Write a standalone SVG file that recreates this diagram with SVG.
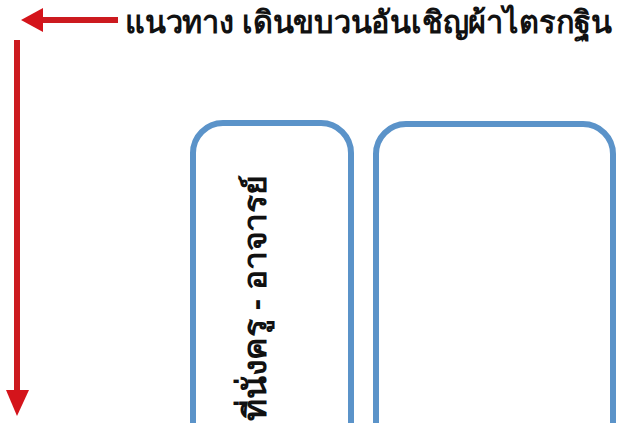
<svg xmlns="http://www.w3.org/2000/svg" width="617" height="423" viewBox="0 0 617 423">
<style>
.box{fill:#ffffff;stroke:#5b93c9;stroke-width:6}
.arr{stroke:#cc1a1f;stroke-width:6;fill:none}
.head{fill:#d4141b}
.thai{font-family:"Noto Sans","DejaVu Sans",sans-serif;font-weight:bold;fill:#111}
</style>
<rect width="617" height="423" fill="#ffffff"/>
<g id="connectors">
  <line class="arr" x1="118" y1="20" x2="40" y2="20"/>
  <polygon class="head" points="21,20 43,8 43,32"/>
  <line class="arr" x1="17" y1="40" x2="17" y2="393"/>
  <polygon class="head" points="17,416 6,390 29,390"/>
</g>
<g id="title">
  <text class="thai" x="125" y="33" font-size="31" textLength="487" lengthAdjust="spacingAndGlyphs">แนวทาง เดินขบวนอันเชิญผ้าไตรกฐิน</text>
</g>
<g id="node-teacher">
  <rect class="box" x="193" y="123" width="158" height="340" rx="30"/>
  <text class="thai" transform="translate(266,421) rotate(-90)" font-size="31" textLength="246" lengthAdjust="spacingAndGlyphs">ที่นั่งครู - อาจารย์</text>
</g>
<g id="node-empty">
  <rect class="box" x="376" y="124" width="237" height="340" rx="30"/>
</g>
</svg>
